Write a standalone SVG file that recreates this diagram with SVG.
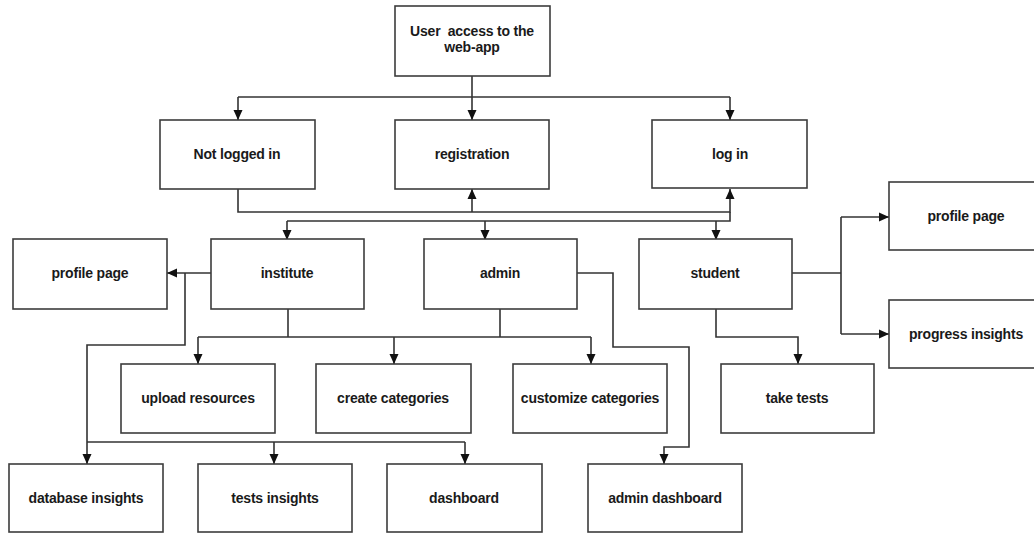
<svg xmlns="http://www.w3.org/2000/svg" width="1034" height="533" viewBox="0 0 1034 533">
<style>
.box{fill:#fff;stroke:#3c3c3c;stroke-width:1.6}
.lbl{font-family:"Liberation Sans",Arial,sans-serif;font-size:14px;font-weight:bold;fill:#1a1a1a;text-anchor:middle;letter-spacing:-0.2px}
.c{fill:none;stroke:#333;stroke-width:1.6}
.a{fill:none;stroke:#333;stroke-width:1.6;marker-end:url(#ah)}
</style>
<defs>
<marker id="ah" markerUnits="userSpaceOnUse" markerWidth="10" markerHeight="10" refX="10" refY="5" orient="auto">
<path d="M0,0.5 L10,5 L0,9.5 z" fill="#111"/>
</marker>
</defs>
<rect width="1034" height="533" fill="#fff"/>
<g id="connectors">
<path class="a" d="M472,76 V120"/>
<path class="c" d="M238,97 H730"/>
<path class="a" d="M238,97 V120"/>
<path class="a" d="M730,97 V120"/>
<path class="a" d="M238,189 V212 H730 V189"/>
<path class="a" d="M472,212 V189"/>
<path class="c" d="M287,221 H730 V212"/>
<path class="a" d="M287,221 V240"/>
<path class="a" d="M485,221 V240"/>
<path class="a" d="M716,221 V240"/>
<path class="a" d="M211,273 H167"/>
<path class="a" d="M185,273 V345 H87 V464"/>
<path class="c" d="M288,309 V337"/>
<path class="c" d="M500,309 V337"/>
<path class="c" d="M198,337 H591"/>
<path class="a" d="M198,337 V364"/>
<path class="a" d="M394,337 V364"/>
<path class="a" d="M591,337 V364"/>
<path class="c" d="M87,442 H465"/>
<path class="a" d="M274,442 V464"/>
<path class="a" d="M465,442 V464"/>
<path class="a" d="M577,273 H613 V347 H689 V447 H664 V464"/>
<path class="c" d="M792,273 H841"/>
<path class="c" d="M841,217 V334"/>
<path class="a" d="M841,217 H889"/>
<path class="a" d="M841,334 H889"/>
<path class="a" d="M716,309 V337 H798 V364"/>
</g>
<g id="n-user"><rect class="box" x="395" y="6" width="155" height="70"/><text class="lbl" x="472" y="36">User&#160; access to the</text><text class="lbl" x="472" y="52">web-app</text></g>
<g id="n-notlogged"><rect class="box" x="160" y="120" width="155" height="69"/><text class="lbl" x="237" y="159">Not logged in</text></g>
<g id="n-registration"><rect class="box" x="395" y="120" width="154" height="69"/><text class="lbl" x="472" y="159">registration</text></g>
<g id="n-login"><rect class="box" x="652" y="120" width="155" height="68"/><text class="lbl" x="730" y="159">log in</text></g>
<g id="n-profile1"><rect class="box" x="13" y="239" width="154" height="70"/><text class="lbl" x="90" y="278">profile page</text></g>
<g id="n-institute"><rect class="box" x="211" y="239" width="153" height="70"/><text class="lbl" x="287" y="278">institute</text></g>
<g id="n-admin"><rect class="box" x="424" y="239" width="153" height="70"/><text class="lbl" x="500" y="278">admin</text></g>
<g id="n-student"><rect class="box" x="639" y="239" width="153" height="70"/><text class="lbl" x="715" y="278">student</text></g>
<g id="n-profile2"><rect class="box" x="889" y="182" width="155" height="68"/><text class="lbl" x="966" y="221">profile page</text></g>
<g id="n-progress"><rect class="box" x="889" y="300" width="155" height="68"/><text class="lbl" x="966" y="339">progress insights</text></g>
<g id="n-upload"><rect class="box" x="121" y="364" width="154" height="69"/><text class="lbl" x="198" y="403">upload resources</text></g>
<g id="n-create"><rect class="box" x="316" y="364" width="155" height="69"/><text class="lbl" x="393" y="403">create categories</text></g>
<g id="n-customize"><rect class="box" x="513" y="364" width="154" height="69"/><text class="lbl" x="590" y="403">customize categories</text></g>
<g id="n-taketests"><rect class="box" x="721" y="364" width="153" height="69"/><text class="lbl" x="797" y="403">take tests</text></g>
<g id="n-database"><rect class="box" x="9" y="464" width="154" height="68"/><text class="lbl" x="86" y="503">database insights</text></g>
<g id="n-testsinsights"><rect class="box" x="198" y="464" width="154" height="68"/><text class="lbl" x="275" y="503">tests insights</text></g>
<g id="n-dashboard"><rect class="box" x="387" y="464" width="155" height="68"/><text class="lbl" x="464" y="503">dashboard</text></g>
<g id="n-admindash"><rect class="box" x="588" y="464" width="154" height="68"/><text class="lbl" x="665" y="503">admin dashboard</text></g>
</svg>
